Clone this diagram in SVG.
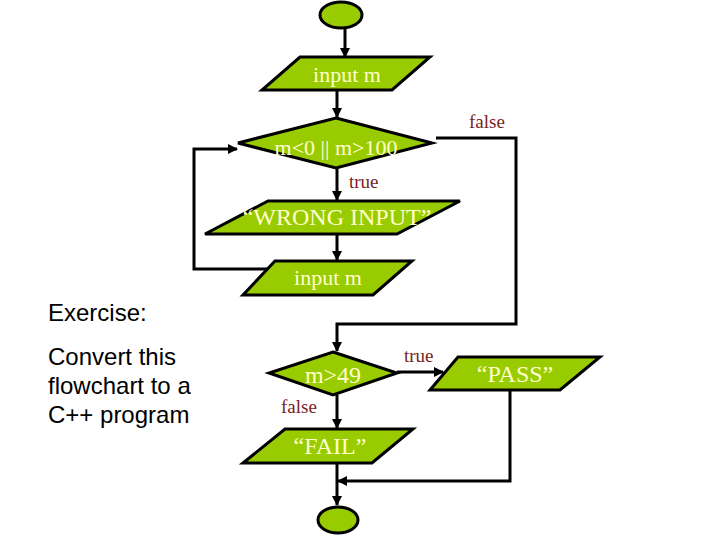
<svg xmlns="http://www.w3.org/2000/svg" width="720" height="540" viewBox="0 0 720 540">
<defs>
<marker id="ah" viewBox="0 0 10 10" refX="9" refY="5" markerWidth="10" markerHeight="10" markerUnits="userSpaceOnUse" orient="auto">
<path d="M0,0 L10,5 L0,10 z" fill="#000"/>
</marker>
<style>
.shape{fill:#99CC00;stroke:#000;stroke-width:3;stroke-linejoin:miter}
.t{font-family:"Liberation Serif","Times New Roman",serif;font-size:22px;fill:#FFFFCC;text-anchor:middle}
.big{font-size:24px}
.lbl{font-family:"Liberation Serif","Times New Roman",serif;font-size:19px;fill:#7A1E1E}
.ex{font-family:"Liberation Sans",Arial,sans-serif;font-size:24px;fill:#000}
.c{fill:none;stroke:#000;stroke-width:3}
.a{marker-end:url(#ah)}
</style>
</defs>
<rect width="720" height="540" fill="#fff"/>
<g id="connectors">
<line class="c a" x1="345" y1="28" x2="345" y2="57"/>
<line class="c a" x1="337" y1="91" x2="337" y2="117"/>
<line class="c a" x1="337" y1="167" x2="337" y2="200"/>
<line class="c a" x1="337" y1="234" x2="337" y2="260"/>
<polyline class="c a" points="268,269 194,269 194,149 237,149"/>
<polyline class="c a" points="436,138 516,138 516,324 337,324 337,351"/>
<line class="c a" x1="397" y1="372" x2="443" y2="372"/>
<line class="c a" x1="337" y1="395" x2="337" y2="428"/>
<line class="c a" x1="337" y1="463" x2="337" y2="505"/>
<polyline class="c a" points="510,390 510,481 338,481"/>
<text class="lbl" x="469" y="128">false</text>
<text class="lbl" x="349" y="188">true</text>
<text class="lbl" x="404" y="362">true</text>
<text class="lbl" x="281" y="413">false</text>
</g>
<g id="start"><ellipse class="shape" cx="341" cy="15" rx="21" ry="13"/></g>
<g id="input1">
<polygon class="shape" points="300,57 430,57 392,90 262,90"/>
<text class="t" x="347" y="82">input m</text>
</g>
<g id="cond1">
<polygon class="shape" points="336,118 432,143 336,168 238,143"/>
<text class="t" x="336" y="155">m&lt;0 || m&gt;100</text>
</g>
<g id="wrong">
<polygon class="shape" points="268,201 460,201 397,234 205,234"/>
<text class="t big" x="337" y="225">“WRONG INPUT”</text>
</g>
<g id="input2">
<polygon class="shape" points="275,261 412,261 373,295 243,295"/>
<text class="t" x="328" y="285">input m</text>
</g>
<g id="cond2">
<polygon class="shape" points="333,352 397,373 333,395 269,373"/>
<text class="t big" x="333" y="383">m&gt;49</text>
</g>
<g id="pass">
<polygon class="shape" points="458,357 600,357 560,390 430,390"/>
<text class="t big" x="515" y="382">“PASS”</text>
</g>
<g id="fail">
<polygon class="shape" points="285,429 413,429 372,463 243,463"/>
<text class="t big" x="330" y="454">“FAIL”</text>
</g>
<g id="end"><ellipse class="shape" cx="338" cy="520" rx="20" ry="13"/></g>
<g id="exercise">
<text class="ex" x="48" y="321">Exercise:</text>
<text class="ex" x="48" y="365">Convert this</text>
<text class="ex" x="48" y="394">flowchart to a</text>
<text class="ex" x="48" y="423">C++ program</text>
</g>
</svg>
